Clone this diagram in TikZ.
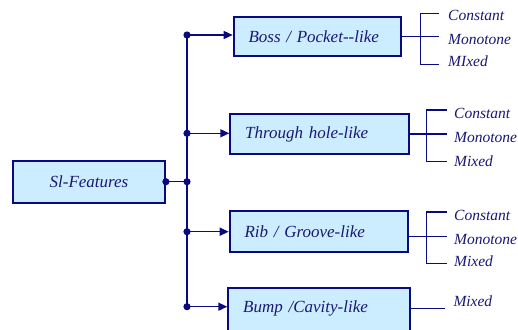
\documentclass[tikz,border=0pt]{standalone}
\usepackage{fontspec}
\setmainfont{Liberation Serif}
\usetikzlibrary{arrows.meta}
\definecolor{navy}{RGB}{10,10,128}
\definecolor{boxfill}{RGB}{204,236,255}
\definecolor{txt}{RGB}{25,25,115}
\begin{document}
\begin{tikzpicture}[x=1pt,y=-1pt,
  box/.style={draw=navy, line width=1.8pt, fill=boxfill, rectangle, anchor=west,
    inner xsep=15pt, inner ysep=0pt, align=left, text=txt,
    font=\fontsize{17}{20}\selectfont\itshape},
  conn/.style={draw=navy, line width=1.5pt},
  arr/.style={conn, -{Triangle[length=9pt,width=8pt]}},
  lab/.style={anchor=base west, inner sep=0pt, text=txt,
    font=\fontsize{15.5}{18}\selectfont\itshape},
  dot/.style={fill=navy}]
\useasboundingbox (0,0) rectangle (518,329);

% main box
\node[box, anchor=center, align=center, inner xsep=0pt, minimum width=152pt, minimum height=42pt] (sf) at (89,182) {Sl-Features};

% sub boxes
\node[box, text width=137.3pt, minimum height=38.7pt] (b1) at (232.7,36.7) {Boss / Pocket-{}-like};
\node[box, text width=149pt, minimum height=40pt] (b2) at (229.3,134) {Through hole-like};
\node[box, text width=148pt, minimum height=41.6pt] (b3) at (228.7,231.5) {Rib / Groove-like};
\node[box, anchor=north west, text width=152pt, minimum height=50pt, text depth=14pt] (b4) at (227.3,287.3) {Bump /Cavity-like};

% junctions
\coordinate (j0) at (187,181.7);
\coordinate (j1) at (187,35);
\coordinate (j2) at (187,133.3);
\coordinate (j3) at (187,231.7);
\coordinate (j4) at (187,306.7);
\coordinate (s0) at (sf.east |- j0);

\draw[conn] (j1) -- (j4);
\draw[conn] (s0) -- (j0);
\draw[arr] (j1) -- (j1 -| b1.west);
\draw[arr] (j2) -- (j2 -| b2.west);
\draw[arr] (j3) -- (j3 -| b3.west);
\draw[arr] (j4) -- (j4 -| b4.west);
\foreach \c in {s0,j0,j1,j2,j3,j4} \fill[dot] (\c) circle (3.6pt);

% bracket 1
\coordinate (k1a) at (439,13.3);
\coordinate (k1b) at (420.7,13.3);
\coordinate (k1c) at (420.7,64.3);
\coordinate (k1d) at (439,64.3);
\coordinate (k1m) at (439,36.7);
\draw[conn] (k1a) -- (k1b) -- (k1c) -- (k1d);
\draw[conn] (b1.east) -- (k1m);
\node[lab] (c1) at (448,20.7) {Constant};
\node[lab] (m1) at (448,45) {Monotone};
\node[lab] (x1) at (448,66.7) {MIxed};

% bracket 2
\coordinate (k2a) at (446.7,110);
\coordinate (k2b) at (426.7,110);
\coordinate (k2c) at (426.7,161.7);
\coordinate (k2d) at (446.7,161.7);
\coordinate (k2m) at (446.7,134);
\draw[conn] (k2a) -- (k2b) -- (k2c) -- (k2d);
\draw[conn] (b2.east) -- (k2m);
\node[lab] (c2) at (454,118.3) {Constant};
\node[lab] (m2) at (454,142.3) {Monotone};
\node[lab] (x2) at (454,166) {Mixed};

% bracket 3
\coordinate (k3a) at (446.7,212);
\coordinate (k3b) at (426.7,212);
\coordinate (k3c) at (426.7,263.3);
\coordinate (k3d) at (446.7,263.3);
\coordinate (k3m) at (446.7,236.7);
\draw[conn] (k3a) -- (k3b) -- (k3c) -- (k3d);
\draw[conn] (b3.east |- k3m) -- (k3m);
\node[lab] (c3) at (454,220) {Constant};
\node[lab] (m3) at (454,244) {Monotone};
\node[lab] (x3) at (454,266) {Mixed};

% bump line
\coordinate (k4m) at (445,308.3);
\draw[conn] ([xshift=-2.5pt]b4.east |- k4m) -- (k4m);
\node[lab] (x4) at (453.3,306) {Mixed};
\end{tikzpicture}
\end{document}
